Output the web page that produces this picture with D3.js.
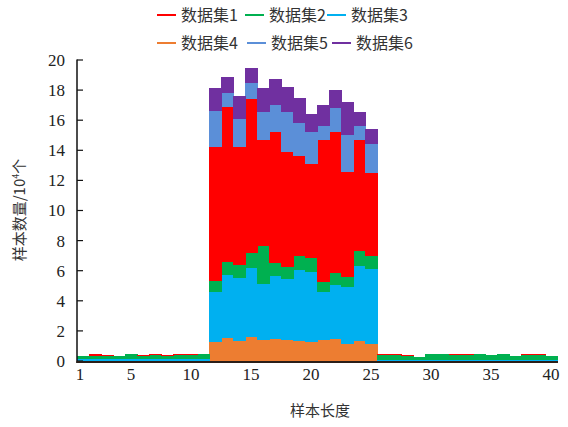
<!DOCTYPE html>
<html>
<head>
<meta charset="utf-8">
<script src="https://cdn.jsdelivr.net/npm/d3@7/dist/d3.min.js"></script>
<style>
  html, body { margin: 0; padding: 0; background: #fff; }
  svg { display: block; }
</style>
</head>
<body>
<svg id="chart" width="568" height="427"></svg>
<script>
// Sample lengths 1..40
const lengths = d3.range(1, 41);

// Sample counts per length (unit: 10^4), one array per dataset
const set1 = [0.01,0.08,0.08,0.01,0.02,0.08,0.09,0.02,0.02,0.08,0.02,
  8.90,10.26,7.82,10.24,7.04,8.71,7.68,6.64,6.27,9.45,9.41,7.02,7.37,5.51,
  0.08,0.08,0.07,0.02,0.02,0.02,0.07,0.02,0.02,0.02,0.02,0.02,0.10,0.10,0.02];
const set2 = [0.17,0.20,0.17,0.19,0.29,0.19,0.22,0.21,0.27,0.25,0.30,
  0.74,0.89,0.84,0.95,2.52,0.88,0.79,0.93,0.89,0.63,0.78,0.66,0.98,0.91,
  0.32,0.30,0.26,0.20,0.38,0.37,0.30,0.35,0.38,0.31,0.38,0.24,0.30,0.30,0.26];
const set3 = [0.12,0.13,0.12,0.12,0.13,0.12,0.13,0.12,0.12,0.13,0.12,
  3.32,4.16,4.21,4.60,3.72,4.21,4.03,4.72,4.65,3.20,3.61,3.75,4.98,4.94,
  0.04,0.04,0.04,0.04,0.04,0.04,0.04,0.04,0.04,0.04,0.04,0.04,0.04,0.04,0.04];
const set4 = [0.03,0.03,0.03,0.03,0.03,0.03,0.03,0.03,0.03,0.03,0.03,
  1.28,1.55,1.33,1.60,1.40,1.44,1.40,1.33,1.28,1.40,1.44,1.15,1.35,1.15,
  0.03,0.03,0.03,0.03,0.03,0.03,0.03,0.03,0.03,0.03,0.03,0.03,0.03,0.03,0.03];
const set5 = [0,0,0,0,0,0,0,0,0,0,0,
  2.39,0.95,1.90,1.10,1.85,1.77,2.66,2.17,2.15,0.93,1.57,2.41,0.93,1.90,
  0,0,0,0,0,0,0,0,0,0,0,0,0,0,0];
const set6 = [0,0,0,0,0,0,0,0,0,0,0,
  1.49,1.04,1.51,0.96,1.59,1.71,1.67,1.66,1.17,1.40,1.19,2.24,0.91,0.99,
  0,0,0,0,0,0,0,0,0,0,0,0,0,0,0];

const seriesNames = ["数据集1", "数据集2", "数据集3", "数据集4", "数据集5", "数据集6"];
const seriesValues = [set1, set2, set3, set4, set5, set6];
const seriesColors = ["#ff0000", "#00b050", "#00b0f0", "#ed7d31", "#5b8fd8", "#7030a0"];
// bottom-to-top stacking order
const stackOrder = ["数据集4", "数据集3", "数据集2", "数据集1", "数据集5", "数据集6"];

const xTicks = [1, 5, 10, 15, 20, 25, 30, 35, 40];
const yTicks = [0, 2, 4, 6, 8, 10, 12, 14, 16, 18, 20];

const serif = "'Liberation Serif', 'Times New Roman', 'DejaVu Serif', serif";
const cjk = "'Noto Sans CJK SC', 'Noto Sans', sans-serif";

const rows = lengths.map((len, i) => {
  const r = { len };
  seriesNames.forEach((n, k) => { r[n] = seriesValues[k][i]; });
  return r;
});
const colorOf = d3.scaleOrdinal(seriesNames, seriesColors);

const svg = d3.select("#chart");
const plotLeft = 77, plotRight = 557, plotTop = 60, plotBottom = 361;

const x = d3.scaleBand().domain(lengths).range([plotLeft, plotRight]).padding(0);
const y = d3.scaleLinear().domain([0, 20]).range([plotBottom, plotTop]);

const stacked = d3.stack().keys(stackOrder)(rows);

svg.append("g").selectAll("g")
  .data(stacked)
  .join("g")
  .attr("fill", d => colorOf(d.key))
  .selectAll("rect")
  .data(d => d)
  .join("rect")
  .attr("shape-rendering", "crispEdges")
  .attr("x", d => x(d.data.len))
  .attr("width", x.bandwidth() + 0.5)
  .attr("y", d => y(d[1]))
  .attr("height", d => Math.max(0, y(d[0]) - y(d[1])));

// y axis: line, inward ticks, labels
const yAxis = svg.append("g");
yAxis.append("line")
  .attr("x1", plotLeft).attr("x2", plotLeft)
  .attr("y1", y(20) - 0.5).attr("y2", plotBottom + 2)
  .attr("stroke", "#111").attr("stroke-width", 1.5);
yAxis.selectAll("line.tk")
  .data(yTicks)
  .join("line")
  .attr("class", "tk")
  .attr("x1", plotLeft).attr("x2", plotLeft + 6)
  .attr("y1", d => y(d)).attr("y2", d => y(d))
  .attr("stroke", "#111").attr("stroke-width", 1.2);
yAxis.selectAll("text")
  .data(yTicks)
  .join("text")
  .attr("font-family", serif)
  .attr("font-size", 17)
  .attr("fill", "#222")
  .attr("x", 65)
  .attr("y", d => y(d))
  .attr("dy", "0.35em")
  .attr("text-anchor", "end")
  .text(d => d);

// x axis: baseline and labels
svg.append("line")
  .attr("x1", plotLeft - 0.5).attr("x2", plotRight + 1)
  .attr("y1", plotBottom + 1).attr("y2", plotBottom + 1)
  .attr("stroke", "#2a1e18").attr("stroke-width", 2.2);
svg.append("g").selectAll("text")
  .data(xTicks)
  .join("text")
  .attr("font-family", serif)
  .attr("font-size", 17)
  .attr("fill", "#222")
  .attr("x", d => d === 1 ? x(d) + 3 : x(d) + x.bandwidth() / 2)
  .attr("y", 380)
  .attr("text-anchor", "middle")
  .text(d => d);

// axis titles
svg.append("text")
  .attr("font-family", cjk)
  .attr("font-size", 15)
  .attr("fill", "#333")
  .attr("transform", "translate(25,210) rotate(-90)")
  .attr("text-anchor", "middle")
  .html('样本数量/10<tspan dy="-6" font-size="9">4</tspan><tspan dy="6">个</tspan>');
svg.append("text")
  .attr("font-family", cjk)
  .attr("font-size", 15)
  .attr("fill", "#333")
  .attr("x", 320).attr("y", 416)
  .attr("text-anchor", "middle")
  .text("样本长度");

// legend: two rows of three
const legendPos = [
  [157, 15], [245, 15], [327, 15],
  [157, 43], [247, 43], [332, 43]
];
const legend = svg.append("g").selectAll("g")
  .data(seriesNames)
  .join("g")
  .attr("transform", (d, i) => `translate(${legendPos[i][0]},${legendPos[i][1]})`);
legend.append("line")
  .attr("x1", 0).attr("x2", 19)
  .attr("stroke", d => colorOf(d)).attr("stroke-width", 2);
legend.append("text")
  .attr("font-family", cjk)
  .attr("font-size", 16)
  .attr("fill", "#333")
  .attr("x", 24)
  .attr("dy", "0.35em")
  .text(d => d);
</script>
</body>
</html>
